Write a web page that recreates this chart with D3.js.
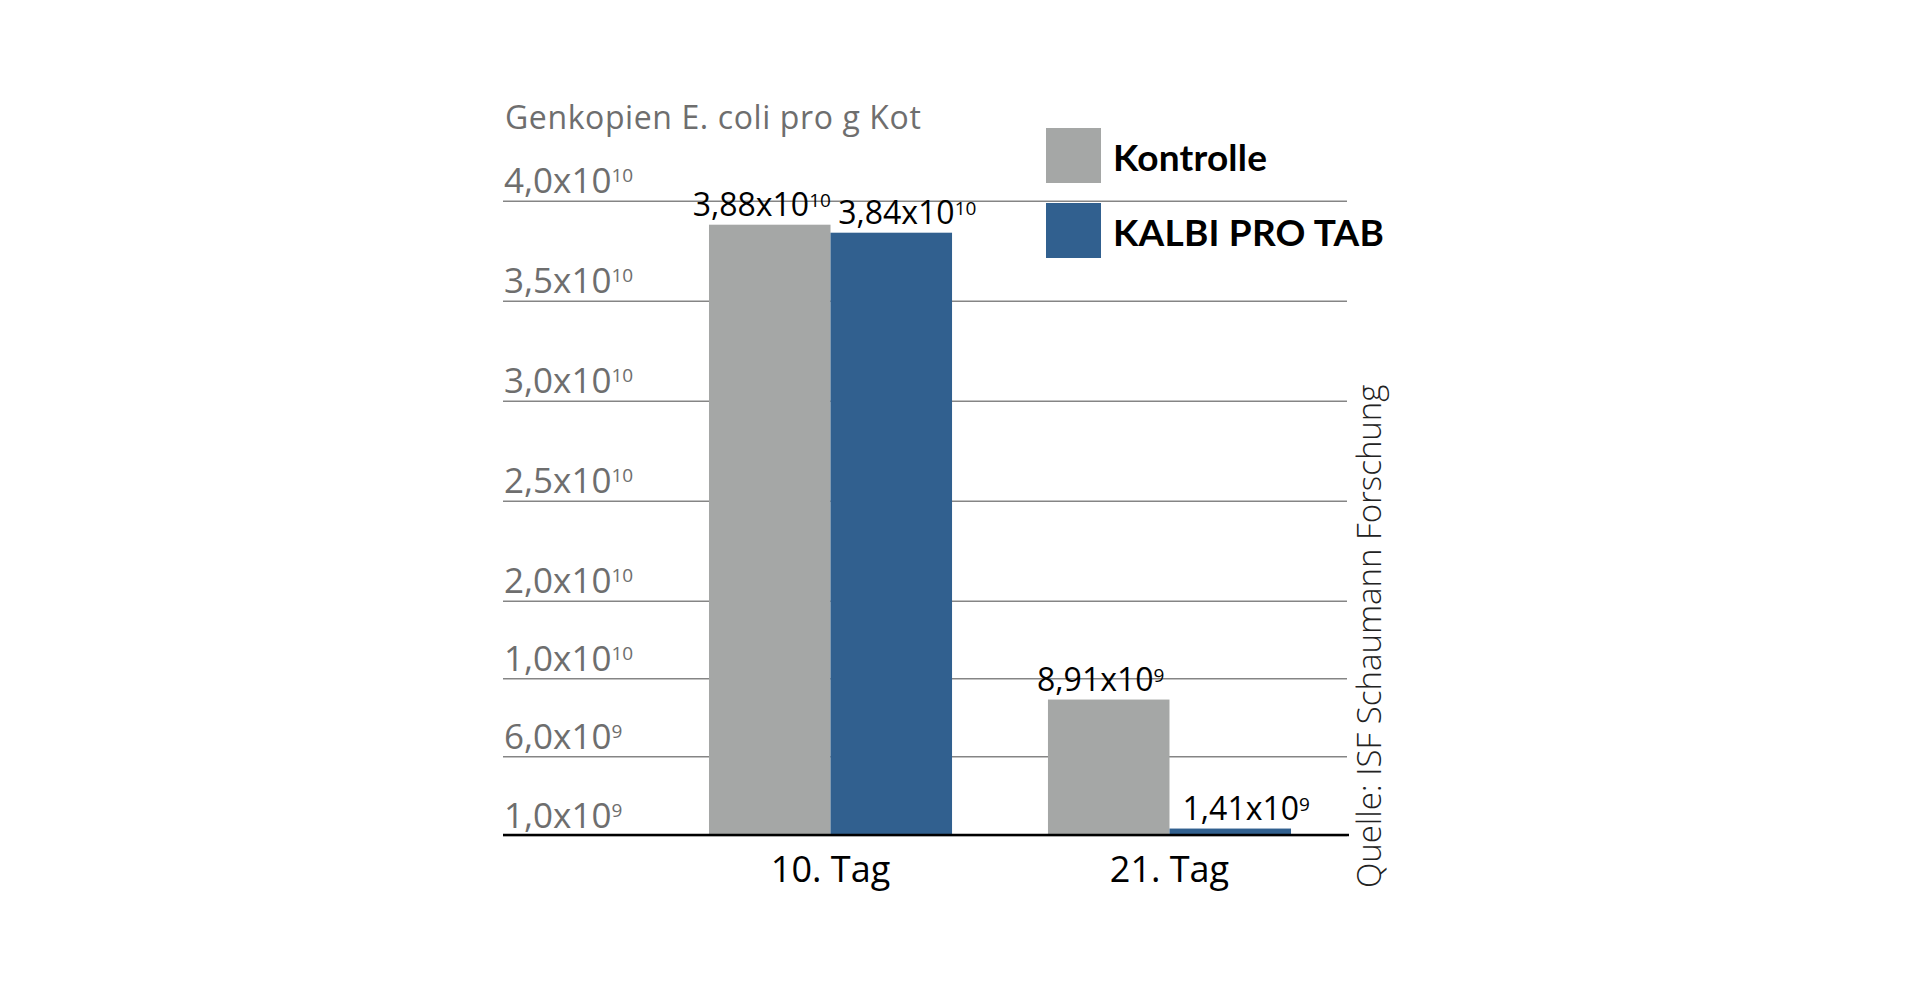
<html>
<head>
<script src="https://cdn.jsdelivr.net/npm/d3@7"></script>
<style>
  body { margin: 0; background: #fff; }
  text { font-family: "Open Sans", sans-serif; }
</style>
</head>
<body>
<script>
// data
var categories = ["10. Tag", "21. Tag"];
var series = ["Kontrolle", "KALBI PRO TAB"];
var kontrolle = [3.88e10, 8.91e9];
var kalbi = [3.84e10, 1.41e9];
var tickValues = [1e9, 6e9, 1e10, 2e10, 2.5e10, 3e10, 3.5e10, 4e10];
var yTitle = "Genkopien E. coli pro g Kot";
var source = "Quelle: ISF Schaumann Forschung";

var colors = ["#a5a7a6", "#31608f"];

var svg = d3.select("body").append("svg")
    .attr("width", 1920)
    .attr("height", 1000);

// x: groups and bars inside a group
var x0 = d3.scaleBand()
    .domain(categories)
    .range([539.5, 1460.5])
    .paddingInner(0.283)
    .paddingOuter(0.5);
var x1 = d3.scaleBand()
    .domain(series)
    .range([0, x0.bandwidth()]);

// y: the original axis is not linear, tick positions are spaced by hand
var y = d3.scaleLinear()
    .domain(tickValues)
    .range([835, 756.3, 678.3, 600.7, 500.7, 400.7, 300.7, 200.7]);

var left = 503, right = 1347;

// split a number into mantissa and exponent, german decimal comma
function sci(v, dec) {
    var e = Math.floor(Math.log10(v) + 1e-9);
    var m = v / Math.pow(10, e);
    return [d3.format("." + dec + "f")(m).replace(".", ","), String(e)];
}

function sciText(sel, v, dec, fs, sfs) {
    var p = sci(v, dec);
    var shift = Math.round(-0.714 * fs + 0.714 * sfs);
    sel.append("tspan").text(p[0] + "x10");
    sel.append("tspan").attr("dy", shift).style("font-size", sfs + "px").text(p[1]);
}

// grid lines through the axis
var axis = svg.append("g")
    .attr("transform", "translate(" + left + ",0)")
    .call(d3.axisRight(y).tickValues(tickValues).tickSize(right - left).tickFormat(""));
axis.select(".domain").remove();
axis.selectAll(".tick line").attr("stroke", "#858585").attr("stroke-width", 1.5);
axis.selectAll(".tick").each(function(d) {
    d3.select(this).append("text")
        .attr("x", 1)
        .attr("y", -8)
        .attr("text-anchor", "start")
        .style("font-size", "35px")
        .style("fill", "#6e6e6e")
        .call(sciText, d, 1, 35, 19);
});

// y title
svg.append("text")
    .attr("x", 505)
    .attr("y", 129)
    .style("font-size", "32px")
    .style("letter-spacing", "0.6px")
    .style("fill", "#6e6e6e")
    .text(yTitle);

// bars
var rows = categories.map(function(c, i) {
    return {cat: c, vals: [{s: series[0], v: kontrolle[i]}, {s: series[1], v: kalbi[i]}]};
});

var groups = svg.append("g").selectAll("g")
    .data(rows)
    .join("g")
    .attr("transform", function(d) { return "translate(" + x0(d.cat) + ",0)"; });

groups.selectAll("rect")
    .data(function(d) { return d.vals; })
    .join("rect")
    .attr("x", function(d) { return x1(d.s); })
    .attr("y", function(d) { return y(d.v); })
    .attr("width", x1.bandwidth())
    .attr("height", function(d) { return y(tickValues[0]) - y(d.v); })
    .style("fill", function(d, i) { return colors[i]; });

groups.selectAll("text.val")
    .data(function(d) { return d.vals; })
    .join("text")
    .attr("class", "val")
    .attr("x", function(d, i) { return x1(d.s) + x1.bandwidth() / 2 + (i == 1 ? 16 : -8); })
    .attr("y", function(d) { return y(d.v) - 9; })
    .attr("text-anchor", "middle")
    .style("font-size", "32px")
    .style("fill", "#000")
    .each(function(d) { d3.select(this).call(sciText, d.v, 2, 32, 19); });

// baseline
svg.append("line")
    .attr("x1", left).attr("x2", right + 2)
    .attr("y1", y(tickValues[0])).attr("y2", y(tickValues[0]))
    .attr("stroke", "#000")
    .attr("stroke-width", 2.5);

// category labels
svg.append("g").selectAll("text")
    .data(categories)
    .join("text")
    .attr("x", function(d) { return x0(d) + x0.bandwidth() / 2; })
    .attr("y", 882)
    .attr("text-anchor", "middle")
    .style("font-size", "36px")
    .style("fill", "#000")
    .text(function(d) { return d; });

// legend
var legend = svg.append("g").selectAll("g")
    .data(series)
    .join("g")
    .attr("transform", function(d, i) { return "translate(1046," + (128 + i * 75) + ")"; });
legend.append("rect")
    .attr("width", 55).attr("height", 55)
    .style("fill", function(d, i) { return colors[i]; });
legend.append("text")
    .attr("x", 67)
    .attr("y", 43)
    .style("font-family", "Lato, sans-serif")
    .style("font-weight", "bold")
    .style("font-size", "37px")
    .style("letter-spacing", "0.2px")
    .style("fill", "#000")
    .text(function(d) { return d; });

// source, vertical
svg.append("text")
    .attr("transform", "translate(1381,888) rotate(-90)")
    .style("font-size", "33px")
    .style("font-weight", 300)
    .style("fill", "#222")
    .text(source);
</script>
</body>
</html>
